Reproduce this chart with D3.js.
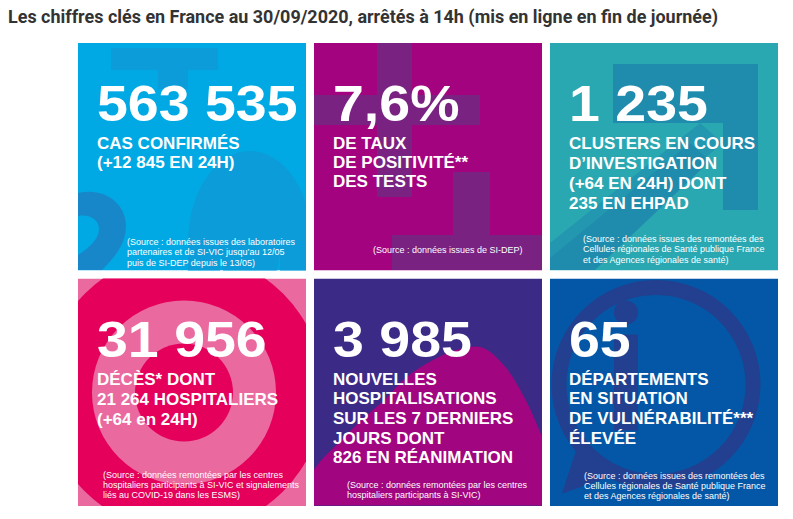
<!DOCTYPE html>
<html>
<head>
<meta charset="utf-8">
<script src="https://cdn.jsdelivr.net/npm/d3@7"></script>
<style>
  body { margin: 0; background: #fff; }
  svg { display: block; }
</style>
</head>
<body>
<svg id="chart" width="793" height="519"></svg>
<script>
var title = "Les chiffres clés en France au 30/09/2020, arrêtés à 14h (mis en ligne en fin de journée)";

var keyFigures = ["563 535", "7,6%", "1 235", "31 956", "3 985", "65"];

var figureLabels = [
  ["CAS CONFIRMÉS", "(+12 845 EN 24H)"],
  ["DE TAUX", "DE POSITIVITÉ**", "DES TESTS"],
  ["CLUSTERS EN COURS", "D’INVESTIGATION", "(+64 EN 24H) DONT", "235 EN EHPAD"],
  ["DÉCÈS* DONT", "21 264 HOSPITALIERS", "(+64 en 24H)"],
  ["NOUVELLES", "HOSPITALISATIONS", "SUR LES 7 DERNIERS", "JOURS DONT", "826 EN RÉANIMATION"],
  ["DÉPARTEMENTS", "EN SITUATION", "DE VULNÉRABILITÉ***", "ÉLEVÉE"]
];

var figureSources = [
  ["(Source : données issues des laboratoires", "partenaires et de SI-VIC jusqu’au 12/05", "puis de SI-DEP depuis le 13/05)"],
  ["(Source : données issues de SI-DEP)"],
  ["(Source : données issues des remontées des", "Cellules régionales de Santé publique France", "et des Agences régionales de santé)"],
  ["(Source : données remontées par les centres", "hospitaliers participants à SI-VIC et signalements", "liés au COVID-19 dans les ESMS)"],
  ["(Source : données remontées par les centres", "hospitaliers participants à SI-VIC)"],
  ["(Source : données issues des remontées des", "Cellules régionales de Santé publique France", "et des Agences régionales de santé)"]
];

// layout / style per tile (kept apart from the data)
var tileBg    = ["#00a9e3", "#a4037f", "#2aa8b2", "#ea6a9f", "#3b2a86", "#0457a6"];
var labelStep = [19, 19, 20, 20, 19.7, 19.7];
var labelTop  = [106, 106, 106, 106, 106, 106];
var sourceX   = [49, 59, 33, 25, 33, 34];
var sourceTop = [202, 210, 199, 199, 209, 200];

var svg = d3.select("#chart");

svg.append("text")
  .attr("x", 8)
  .attr("y", 23)
  .attr("textLength", 710)
  .attr("lengthAdjust", "spacingAndGlyphs")
  .style("font-family", "Roboto, 'Liberation Sans', sans-serif")
  .style("font-weight", 700)
  .style("font-size", "18px")
  .style("fill", "#333")
  .text(title);

var col = d3.scaleBand().domain([0, 1, 2]).range([78, 778]).paddingInner(8 / 236);
var row = d3.scaleBand().domain([0, 1]).range([43, 506]).paddingInner(8 / 235.5);

var tiles = keyFigures.map(function(d, i) {
  return {
    index: i,
    figure: d,
    labels: figureLabels[i],
    source: figureSources[i],
    col: i % 3,
    row: Math.floor(i / 3)
  };
});

var w = col.bandwidth();
var h = row.bandwidth();

var defs = svg.append("defs");
defs.append("clipPath").attr("id", "tileClip")
  .append("rect").attr("width", w).attr("height", h);

var tile = svg.selectAll("g.tile")
  .data(tiles)
  .enter().append("g")
  .attr("class", "tile")
  .attr("transform", function(d) {
    return "translate(" + col(d.col) + "," + row(d.row) + ")";
  });

var art = tile.append("g").attr("clip-path", "url(#tileClip)");

art.append("rect")
  .attr("width", w)
  .attr("height", h)
  .attr("fill", function(d) { return tileBg[d.index]; });

art.each(function(d) {
  decorate(d3.select(this), d.index);
});

function decorate(g, i) {
  if (i === 0) {
    // fragments of a big "2020" behind the figure
    g.append("path")
      .attr("d", "M33,5H140V27H110V46H80V27H33Z")
      .attr("fill", "#0b9cd9");
    g.append("path")
      .attr("fill-rule", "evenodd")
      .attr("d", "M110,200A62,92 0 1 1 234,200V240H110Z M142,200A30,62 0 1 0 202,200V240H142Z")
      .attr("fill", "#0b9cd9");
    g.append("path")
      .attr("fill-rule", "evenodd")
      .attr("d", "M0,150C26,144 48,160 48,183C48,201 36,215 24,227H0Z M0,173C12,171 21,177 21,186C21,196 11,205 0,212Z")
      .attr("fill", "#1787ca");
  } else if (i === 1) {
    var plus = "#7a2282";
    [[63, 0, 35, 154], [0, 52, 166, 30], [139, 129, 37, 98], [78, 192, 150, 35]].forEach(function(r) {
      g.append("rect").attr("x", r[0]).attr("y", r[1]).attr("width", r[2]).attr("height", r[3]).attr("fill", plus);
    });
  } else if (i === 2) {
    g.append("path")
      .attr("d", "M0,200L150,80L173,100L20,227H0Z")
      .attr("fill", "#2497b0");
    g.append("path")
      .attr("d", "M0,227L0,215L140,100L160,118L45,227Z")
      .attr("fill", "#1f8cad");
    g.append("path")
      .attr("d", "M63,21H208V167H173V80H63Z")
      .attr("fill", "#1f8cad");
  } else if (i === 3) {
    var cx = 106, cy = 114;
    [[140, "#e4005b"], [92, "#ea6a9f"], [49, "#e4005b"]].forEach(function(c) {
      g.append("circle").attr("cx", cx).attr("cy", cy).attr("r", c[0]).attr("fill", c[1]);
    });
  } else if (i === 4) {
    var ridge = [[0, 191], [8, 181], [28, 161], [48, 141], [71, 121], [91, 100], [118, 82],
                 [144, 71], [168, 69], [191, 88], [212, 122], [228, 158]];
    var line = d3.line().curve(d3.curveCatmullRom);
    g.append("path")
      .attr("d", line(ridge) + "L228,227L0,227Z")
      .attr("fill", "#a1057f");
  } else if (i === 5) {
    var navy = "#22408f";
    g.append("circle")
      .attr("cx", 106).attr("cy", 106).attr("r", 97)
      .attr("fill", "none").attr("stroke", navy).attr("stroke-width", 15);
    g.append("path")
      .attr("d", "M30,160L70,195L12,215Z")
      .attr("fill", navy);
    g.append("circle").attr("cx", 76).attr("cy", 34).attr("r", 12).attr("fill", navy);
    g.append("rect").attr("x", 64).attr("y", 56).attr("width", 24).attr("height", 96).attr("fill", navy);
  }
}

// key figure
tile.append("text")
  .attr("transform", "translate(19,78) scale(1.11,1)")
  .style("font-family", "'Liberation Sans', Arial, sans-serif")
  .style("font-weight", 700)
  .style("font-size", "50px")
  .style("fill", "#fff")
  .text(function(d) { return d.figure; });

// label lines
tile.append("g")
  .selectAll("text")
  .data(function(d) {
    return d.labels.map(function(t, k) { return { text: t, y: labelTop[d.index] + k * labelStep[d.index] }; });
  })
  .enter().append("text")
  .attr("x", 19)
  .attr("y", function(d) { return d.y; })
  .style("font-family", "'Liberation Sans', Arial, sans-serif")
  .style("font-weight", 700)
  .style("font-size", "17px")
  .style("fill", "#fff")
  .text(function(d) { return d.text; });

// source notes
tile.append("g")
  .selectAll("text")
  .data(function(d) {
    return d.source.map(function(t, k) { return { text: t, x: sourceX[d.index], y: sourceTop[d.index] + k * 10.3 }; });
  })
  .enter().append("text")
  .attr("x", function(d) { return d.x; })
  .attr("y", function(d) { return d.y; })
  .style("font-family", "'Liberation Sans', Arial, sans-serif")
  .style("font-size", "9px")
  .style("fill", "#fff")
  .text(function(d) { return d.text; });
</script>
</body>
</html>
